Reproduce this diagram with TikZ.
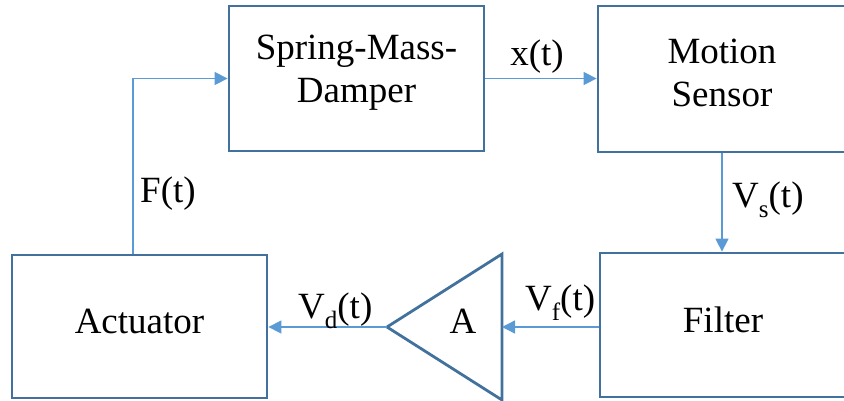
\documentclass[tikz,border=0pt]{standalone}
\usepackage{fontspec}
\setmainfont{Liberation Serif}
\usetikzlibrary{arrows.meta,calc}
\definecolor{boxblue}{RGB}{65,113,156}
\definecolor{linkblue}{RGB}{91,155,213}
\newcommand{\sigsub}[1]{\raisebox{-0.28em}{\fontsize{25}{25}\selectfont #1}}
\begin{document}
\begin{tikzpicture}[x=1pt,y=-1pt,
  blockbox/.style={draw=boxblue,line width=2.8pt,rectangle,inner sep=0pt},
  boxtext/.style={inner sep=0pt,align=center,font=\fontsize{37}{43}\selectfont},
  link/.style={draw=linkblue,line width=1.4pt,-{Triangle[length=13pt,width=13pt]}},
  sig/.style={font=\fontsize{37}{43}\selectfont,inner sep=0pt}]
\useasboundingbox (0,0) rectangle (844,400);
\node[blockbox,minimum width=255pt,minimum height=145pt] (smd) at (356.5,78.5) {};
\node[blockbox,minimum width=248pt,minimum height=146pt] (ms) at (722,79) {};
\node[blockbox,minimum width=246pt,minimum height=144pt] (filt) at (723,325) {};
\node[blockbox,minimum width=255pt,minimum height=143pt] (act) at (139.5,326.5) {};
\node[boxtext] (smdtext) at ([yshift=6pt]smd.center) {Spring-Mass-\\Damper};
\node[boxtext] (mstext) at ([yshift=6pt]ms.center) {Motion\\Sensor};
\node[boxtext] (filttext) at ([yshift=5pt]filt.center) {Filter};
\node[boxtext] (acttext) at ([yshift=5pt]act.center) {Actuator};
% amplifier triangle
\coordinate (ampin) at (502,327);
\coordinate (ampout) at (387,327);
\draw[draw=boxblue,line width=2.8pt,line join=miter] (502,254) -- (ampout) -- (502,400) -- cycle;
\node[sig,anchor=base] (amp) at (463,333) {A};
% connectors
\draw[link] (smd.east) -- (smd.east -| ms.west);
\draw[link] (ms.south) -- (ms.south |- filt.north);
\draw[link] (ampin -| filt.west) -- (ampin);
\draw[link] (ampout) -- (ampout -| act.east);
\coordinate (fstart) at ([xshift=-6.5pt]act.north);
\draw[link] (fstart) |- (smd.west);
% labels
\node[sig,anchor=base] (lx) at (537,65) {x(t)};
\node[sig,anchor=base west] (lvs) at (732,207) {V\sigsub{s}(t)};
\node[sig,anchor=base west] (lvf) at (525,310) {V\sigsub{f}(t)};
\node[sig,anchor=base west] (lvd) at (298,318) {V\sigsub{d}(t)};
\node[sig,anchor=base west] (lf) at (140,202) {F(t)};
\end{tikzpicture}
\end{document}
